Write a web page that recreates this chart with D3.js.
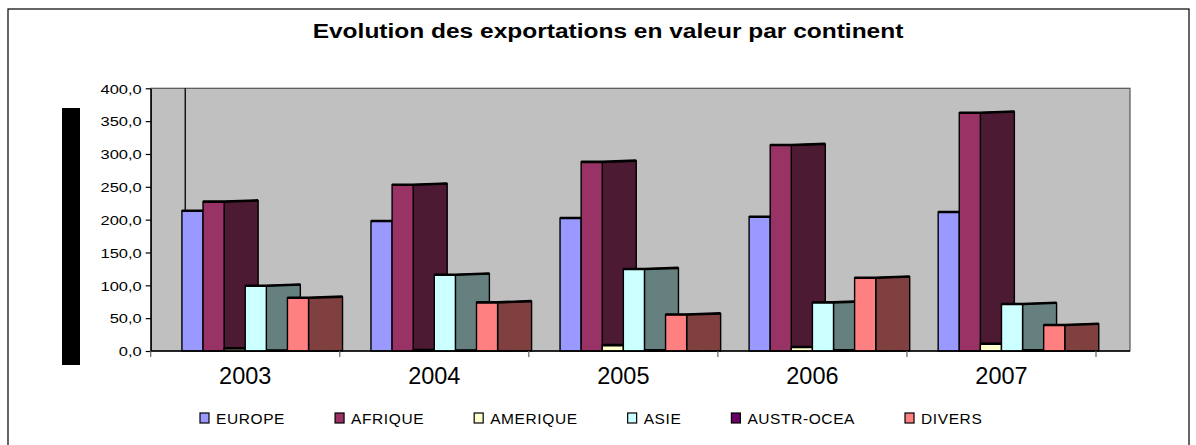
<!DOCTYPE html>
<html>
<head>
<meta charset="utf-8">
<script src="https://cdn.jsdelivr.net/npm/d3@7"></script>
<style>
body{margin:0;background:#fff}
svg{display:block;font-family:"Liberation Sans",Arial,sans-serif}
</style>
</head>
<body>
<svg id="chart" width="1196" height="445"></svg>
<script>
// données
const years = ["2003","2004","2005","2006","2007"];
const series = ["EUROPE","AFRIQUE","AMERIQUE","ASIE","AUSTR-OCEA","DIVERS"];
const europe    = [213.6,197.9,202.5,204.5,211.6];
const afrique   = [227.5,253.2,288.0,313.6,362.8];
const amerique  = [4.0,1.5,9.0,6.0,11.0];
const asie      = [99.4,116.2,124.8,74.1,71.6];
const austrOcea = [0.6,0.8,1.0,1.0,1.2];
const divers    = [81.0,74.1,55.5,111.6,39.6];
const yTicks = [0,50,100,150,200,250,300,350,400];
const colors = ["#9999FF","#993366","#FFFFCC","#CCFFFF","#660066","#FF8080"];

const values = [europe, afrique, amerique, asie, austrOcea, divers];

var svg = d3.select("#chart");
var depth = 34, slant = 1.2;

var x0 = d3.scaleBand().domain(years).range([150.7, 1096]).paddingInner(0).paddingOuter(0);
var x1 = d3.scaleBand().domain(series).range([0, x0.bandwidth()]).paddingInner(0).paddingOuter(1.48);
var y = d3.scaleLinear().domain([0, 400]).range([351, 88.3]);
var color = d3.scaleOrdinal().domain(series).range(colors);

// cadre
svg.append("rect").attr("x", 8).attr("y", 9).attr("width", 1181).attr("height", 450)
    .attr("fill", "#fff").attr("stroke", "#000").attr("stroke-width", 1.2);

// titre
svg.append("text")
    .attr("transform", "translate(608,38) scale(1.225,1)")
    .attr("text-anchor", "middle")
    .attr("font-weight", "bold").attr("font-size", 20)
    .text("Evolution des exportations en valeur par continent");

// barre noire à gauche
svg.append("rect").attr("x", 62).attr("y", 108).attr("width", 18).attr("height", 257).attr("fill", "#000");

// zone de tracé
var plotRight = x0.range()[1] + depth;
svg.append("rect")
    .attr("x", x0.range()[0]).attr("y", y(400))
    .attr("width", plotRight - x0.range()[0]).attr("height", y(0) - y(400))
    .attr("fill", "#C0C0C0").attr("stroke", "#555").attr("stroke-width", 1.2);

// trait parasite au-dessus de EUROPE 2003
svg.append("line")
    .attr("x1", x0("2003") + x1("EUROPE") + 3.3).attr("x2", x0("2003") + x1("EUROPE") + 3.3)
    .attr("y1", y(400)).attr("y2", y(europe[0]))
    .attr("stroke", "#000").attr("stroke-width", 1.3);

function shade(c) {
    var k = d3.rgb(c);
    return d3.rgb(k.r / 2, k.g / 2, k.b / 2);
}

// barres : face avant + face latérale, dessinées série par série
years.forEach(function(yr, i) {
    var g = svg.append("g").attr("transform", "translate(" + x0(yr) + ",0)");
    series.forEach(function(s, j) {
        var v = values[j][i];
        var bx = x1(s), bw = x1.bandwidth();
        var top = y(v), base = y(0);
        var side = [[bx + bw, base], [bx + bw, top], [bx + bw + depth, top - slant], [bx + bw + depth, base]];
        g.append("polygon")
            .attr("points", side.map(function(p) { return p.join(","); }).join(" "))
            .attr("fill", shade(color(s))).attr("stroke", "#000").attr("stroke-width", 1.4)
            .attr("stroke-linejoin", "round");
        g.append("rect")
            .attr("x", bx).attr("y", top).attr("width", bw).attr("height", base - top)
            .attr("fill", color(s)).attr("stroke", "#000").attr("stroke-width", 1.4);
        g.append("path")
            .attr("d", "M" + bx + "," + top + "L" + (bx + bw) + "," + top + "L" + (bx + bw + depth) + "," + (top - slant))
            .attr("fill", "none").attr("stroke", "#000").attr("stroke-width", 2.6);
    });
});

// axe Y
var yAxis = svg.append("g")
    .attr("transform", "translate(" + x0.range()[0] + ",0)")
    .call(d3.axisLeft(y).tickValues(yTicks).tickSize(5).tickSizeOuter(0)
        .tickFormat(function(d) { return d3.format(".1f")(d).replace(".", ","); }));
yAxis.select(".domain").attr("stroke", "#000").attr("stroke-width", 1.4);
yAxis.selectAll(".tick line").attr("stroke", "#000").attr("stroke-width", 1.2);
yAxis.selectAll(".tick text")
    .attr("x", null).attr("dy", "0.35em")
    .attr("transform", "translate(-9,0) scale(1.22,1)")
    .attr("font-family", "Liberation Sans, Arial, sans-serif")
    .attr("font-size", 13.5).attr("fill", "#000");

// axe X
svg.append("line")
    .attr("x1", x0.range()[0]).attr("x2", plotRight)
    .attr("y1", y(0)).attr("y2", y(0))
    .attr("stroke", "#000").attr("stroke-width", 1.6);
var bounds = years.map(function(d) { return x0(d); }).concat([x0.range()[1]]);
svg.selectAll(".xtick").data(bounds).enter().append("line")
    .attr("class", "xtick")
    .attr("x1", function(d) { return d; }).attr("x2", function(d) { return d; })
    .attr("y1", y(0)).attr("y2", y(0) + 6)
    .attr("stroke", "#666").attr("stroke-width", 1.2);

var xAxis = svg.append("g")
    .attr("transform", "translate(0," + y(0) + ")")
    .call(d3.axisBottom(x0).tickSize(0));
xAxis.select(".domain").remove();
xAxis.selectAll(".tick text")
    .attr("y", 33).attr("dy", 0)
    .attr("font-family", "Liberation Sans, Arial, sans-serif")
    .attr("font-size", 23.5).attr("fill", "#000");

// légende
var legend = svg.append("g").attr("transform", "translate(200,418)");
var lx = 0;
series.forEach(function(s) {
    var it = legend.append("g").attr("transform", "translate(" + lx + ",0)");
    it.append("rect").attr("x", 0).attr("y", -5).attr("width", 9).attr("height", 10)
        .attr("fill", color(s)).attr("stroke", "#000").attr("stroke-width", 1.2);
    var t = it.append("text").attr("x", 16).attr("y", 6)
        .attr("font-size", 15.5).attr("letter-spacing", 0.6).attr("fill", "#000").text(s);
    lx += 16 + t.node().getComputedTextLength() + 50;
});
</script>
</body>
</html>
